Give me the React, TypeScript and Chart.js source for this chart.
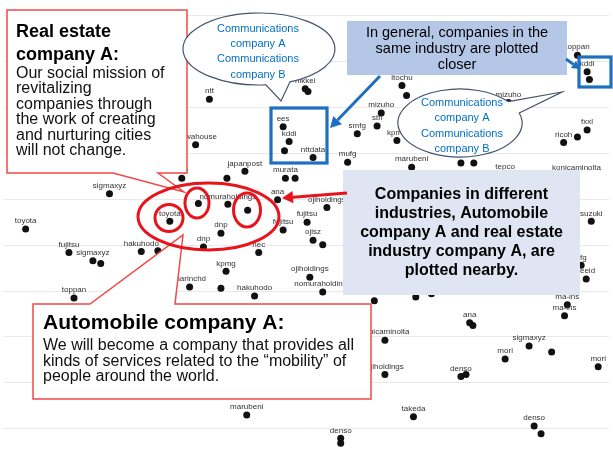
import { useEffect, useRef } from "react";
import { Chart, registerables } from "chart.js";

Chart.register(...registerables);

// ---- data (embedding coordinates) ----
const companies = [
  "nikkei", "", "ntt", "ees", "kddi", "", "nttdata", "mizuho", "sbi", "smfg",
  "kpmg", "daiwahouse", "mufg", "japanpost", "nsp", "", "murata", "", "itochu", "",
  "toppan", "kddi", "", "fxxl", "ricoh", "", "marubeni", "", "", "tepco",
  "konicaminolta", "sigmaxyz", "toyota", "toyota", "", "nomuraholdings", "", "ana", "ojiholdings", "fujitsu",
  "fujitsu", "dnp", "dnp", "nec", "ojisz", "", "kpmg", "ojiholdings", "nomuraholdings", "marinchd",
  "", "hakuhodo", "konicaminolta", "", "", "suzuki", "afg", "reeid", "ma-ins", "ma-ins",
  "ana", "", "konicaminolta", "sigmaxyz", "", "mori", "mori", "ojiholdings", "denso", "",
  "takeda", "denso", "", "denso", "", "marubeni", "fujitsu", "sigmaxyz", "", "hakuhodo",
  "", "toppan", "mizuho",
];
const xValues = [
  6.54, 6.6, 4.46, 6.06, 6.19, 6.09, 6.71, 8.19, 8.1, 7.67,
  8.53, 4.16, 7.46, 5.23, 3.86, 4.84, 6.11, 6.32, 8.64, 8.74,
  12.45, 12.66, 12.71, 12.66, 12.15, 12.45, 8.85, 9.92, 10.2, 10.88,
  12.43, 2.29, 0.47, 3.6, 4.22, 4.86, 5.29, 5.94, 7.01, 6.58,
  6.06, 4.71, 4.33, 5.53, 6.71, 6.92, 4.82, 6.64, 6.92, 4.03,
  4.71, 5.44, 8.04, 8.94, 9.28, 12.75, 12.53, 12.64, 12.23, 12.17,
  10.11, 10.18, 8.27, 11.4, 11.89, 10.88, 12.9, 8.27, 9.92, 10.03,
  8.89, 11.51, 11.66, 7.31, 7.31, 5.27, 1.41, 1.93, 2.1, 2.98,
  3.34, 1.52, 10.95,
];
const yValues = [
  7.41, 7.35, 7.18, 6.58, 6.26, 6.06, 5.91, 6.88, 6.6, 6.43,
  6.28, 6.19, 5.81, 5.61, 5.46, 5.46, 5.46, 5.46, 7.48, 7.26,
  8.14, 7.78, 7.61, 6.51, 6.24, 6.36, 5.7, 5.79, 5.79, 5.53,
  5.51, 5.12, 4.35, 4.52, 4.91, 4.89, 4.76, 4.99, 4.82, 4.5,
  4.33, 4.26, 3.96, 3.84, 4.11, 4.01, 3.43, 3.3, 2.98, 3.09,
  3.06, 2.89, 2.79, 2.87, 2.94, 4.52, 3.56, 3.26, 2.7, 2.46,
  2.31, 2.25, 1.93, 1.8, 1.67, 1.52, 1.35, 1.18, 1.14, 1.18,
  0.26, 0.06, -0.11, -0.21, -0.32, 0.3, 3.84, 3.66, 3.6, 3.86,
  3.88, 2.85, 7.11,
];
const yGridValues = [0, 1, 2, 3, 4, 5, 6, 7, 8, 9];
const xRange = [0, 13.135];
const yRange = [-0.857, 9.257];

// ---- annotation texts ----
const realEstateTitle = ["Real estate", "company A:"];
const realEstateBody = [
  "Our social mission of",
  "revitalizing",
  "companies through",
  "the work of creating",
  "and nurturing cities",
  "will not change.",
];
const automobileTitle = "Automobile company A:";
const automobileBody = [
  "We will become a company that provides all",
  "kinds of services related to the \u201cmobility\u201d of",
  "people around the world.",
];
const commLines = ["Communications", "company A", "Communications", "company B"];
const sameIndustryLines = ["In general, companies in the", "same industry are plotted", "closer"];
const differentIndustryLines = [
  "Companies in different",
  "industries, Automobile",
  "company A and real estate",
  "industry company A, are",
  "plotted nearby.",
];

const FONT = '"Liberation Sans", Arial, sans-serif';
const RED_BOX = "#f24848";
const RED = "#e8141c";
const BLUE = "#1f6fc0";

function arrow(ctx: CanvasRenderingContext2D, x1: number, y1: number, x2: number, y2: number, color: string, w: number, head: number) {
  const a = Math.atan2(y2 - y1, x2 - x1);
  const bx = x2 - head * Math.cos(a);
  const by = y2 - head * Math.sin(a);
  ctx.save();
  ctx.strokeStyle = color;
  ctx.lineWidth = w;
  ctx.beginPath();
  ctx.moveTo(x1, y1);
  ctx.lineTo(bx, by);
  ctx.stroke();
  ctx.fillStyle = color;
  ctx.beginPath();
  ctx.moveTo(x2, y2);
  ctx.lineTo(bx + head * 0.55 * Math.sin(a), by - head * 0.55 * Math.cos(a));
  ctx.lineTo(bx - head * 0.55 * Math.sin(a), by + head * 0.55 * Math.cos(a));
  ctx.closePath();
  ctx.fill();
  ctx.restore();
}

function lines(ctx: CanvasRenderingContext2D, arr: string[], x: number, y0: number, step: number, font: string, color: string, align: CanvasTextAlign) {
  ctx.save();
  ctx.font = font;
  ctx.fillStyle = color;
  ctx.textAlign = align;
  ctx.textBaseline = "alphabetic";
  arr.forEach((t, i) => ctx.fillText(t, x, y0 + i * step));
  ctx.restore();
}

function bubble(ctx: CanvasRenderingContext2D, cx: number, cy: number, rx: number, ry: number, t1: number, t2: number, tipX: number, tipY: number) {
  ctx.save();
  ctx.beginPath();
  ctx.moveTo(cx + rx * Math.cos(t1), cy + ry * Math.sin(t1));
  ctx.lineTo(tipX, tipY);
  ctx.lineTo(cx + rx * Math.cos(t2), cy + ry * Math.sin(t2));
  ctx.ellipse(cx, cy, rx, ry, 0, t2, t1 + Math.PI * 2, false);
  ctx.closePath();
  ctx.fillStyle = "#ffffff";
  ctx.fill();
  ctx.strokeStyle = "#44546a";
  ctx.lineWidth = 1.2;
  ctx.stroke();
  ctx.restore();
}

const labelPlugin = {
  id: "pointLabels",
  afterDatasetsDraw(chart: any) {
    const ctx = chart.ctx as CanvasRenderingContext2D;
    const meta = chart.getDatasetMeta(0);
    ctx.save();
    ctx.font = `8px ${FONT}`;
    ctx.fillStyle = "#333333";
    ctx.textAlign = "center";
    ctx.textBaseline = "middle";
    meta.data.forEach((pt: any, i: number) => {
      const name = companies[i];
      if (name) ctx.fillText(name, pt.x, pt.y - 8);
    });
    ctx.restore();
  },
};

const overlayPlugin = {
  id: "overlays",
  afterDraw(chart: any) {
    const ctx = chart.ctx as CanvasRenderingContext2D;
    ctx.save();

    // Real estate callout
    ctx.beginPath();
    ctx.moveTo(7, 10);
    ctx.lineTo(187, 10);
    ctx.lineTo(187, 173);
    ctx.lineTo(158, 173);
    ctx.lineTo(184, 192);
    ctx.lineTo(113, 173);
    ctx.lineTo(7, 173);
    ctx.closePath();
    ctx.fillStyle = "#ffffff";
    ctx.fill();
    ctx.strokeStyle = RED_BOX;
    ctx.lineWidth = 1.5;
    ctx.stroke();
    lines(ctx, realEstateTitle, 16, 37, 23, `bold 18px ${FONT}`, "#000", "left");
    lines(ctx, realEstateBody, 16, 78, 15.4, `16px ${FONT}`, "#111", "left");

    // Automobile callout
    ctx.beginPath();
    ctx.moveTo(33, 304);
    ctx.lineTo(90, 304);
    ctx.lineTo(183, 235);
    ctx.lineTo(175, 304);
    ctx.lineTo(371, 304);
    ctx.lineTo(371, 399);
    ctx.lineTo(33, 399);
    ctx.closePath();
    ctx.fillStyle = "#ffffff";
    ctx.fill();
    ctx.strokeStyle = RED_BOX;
    ctx.lineWidth = 1.5;
    ctx.stroke();
    lines(ctx, [automobileTitle], 43, 329, 0, `bold 21px ${FONT}`, "#000", "left");
    lines(ctx, automobileBody, 43, 350, 15.5, `16px ${FONT}`, "#111", "left");

    // Red ellipse and circles
    ctx.strokeStyle = RED;
    ctx.lineWidth = 3;
    ctx.beginPath();
    ctx.ellipse(208.5, 216.5, 70.5, 33.5, 0, 0, Math.PI * 2);
    ctx.stroke();
    ctx.beginPath();
    ctx.ellipse(169, 218, 14, 13.5, 0, 0, Math.PI * 2);
    ctx.stroke();
    ctx.beginPath();
    ctx.ellipse(197, 203, 12, 15, 0, 0, Math.PI * 2);
    ctx.stroke();
    ctx.beginPath();
    ctx.ellipse(247, 210, 13.5, 17, 0, 0, Math.PI * 2);
    ctx.stroke();

    // Communications bubbles
    bubble(ctx, 259, 49, 76, 36, 1.15, 1.48, 281, 101);
    lines(ctx, commLines, 258, 32, 15.2, `11px ${FONT}`, "#0070c0", "center");
    bubble(ctx, 460, 123, 62, 34, -0.68, -0.3, 562, 92);
    lines(ctx, commLines, 462, 106, 15.3, `11px ${FONT}`, "#0070c0", "center");

    // Blue info box
    ctx.fillStyle = "#b4c7e7";
    ctx.fillRect(347, 21, 220, 54);
    lines(ctx, sameIndustryLines, 457, 37, 16, `14.5px ${FONT}`, "#000", "center");

    // Blue squares
    ctx.strokeStyle = BLUE;
    ctx.lineWidth = 3.2;
    ctx.strokeRect(271, 108, 56, 55);
    ctx.strokeRect(579, 57, 32, 30);
    arrow(ctx, 380, 76, 330, 128, BLUE, 3, 11);
    arrow(ctx, 566, 59, 580, 69, BLUE, 3, 8);

    // Right grey-blue box
    ctx.fillStyle = "#dfe5f2";
    ctx.fillRect(343, 170, 237, 125);
    lines(ctx, differentIndustryLines, 461.5, 199, 19, `bold 16px ${FONT}`, "#000", "center");
    arrow(ctx, 347, 193, 282, 198, RED, 3, 11);

    ctx.restore();
  },
};

export default function App() {
  const ref = useRef<HTMLCanvasElement | null>(null);
  useEffect(() => {
    if (!ref.current) return;
    const points = xValues.map((x, i) => ({ x, y: yValues[i] }));
    const chart = new Chart(ref.current, {
      type: "scatter",
      data: {
        datasets: [
          {
            label: "companies",
            data: points,
            backgroundColor: "#111111",
            borderWidth: 0,
            pointRadius: 3.5,
          },
        ],
      },
      options: {
        animation: false,
        responsive: true,
        maintainAspectRatio: false,
        layout: { padding: 0 },
        plugins: { legend: { display: false }, tooltip: { enabled: false } },
        scales: {
          x: { type: "linear", display: false, min: xRange[0], max: xRange[1] },
          y: {
            type: "linear",
            min: yRange[0],
            max: yRange[1],
            afterBuildTicks: (axis: any) => {
              axis.ticks = yGridValues.map((v) => ({ value: v }));
            },
            ticks: { display: false },
            grid: { color: "#e9e9e9", lineWidth: 1, drawTicks: false },
            border: { display: false },
          },
        },
      },
      plugins: [labelPlugin, overlayPlugin],
    } as any);
    return () => chart.destroy();
  }, []);
  return (
    <div style={{ position: "fixed", left: 0, top: 0, width: 613, height: 472, background: "#fff" }}>
      <canvas ref={ref} />
    </div>
  );
}
